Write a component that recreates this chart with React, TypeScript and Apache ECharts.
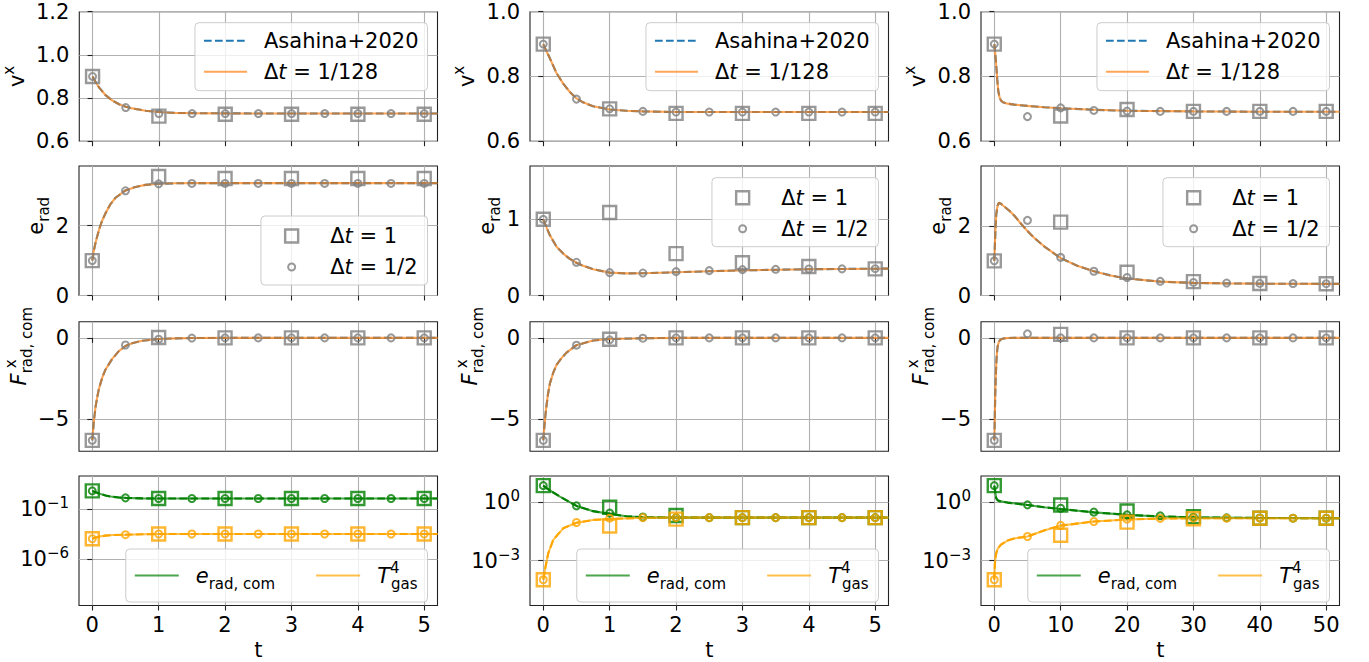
import React, { useEffect, useRef } from 'react';
import * as echarts from 'echarts';

const FF = 'DejaVu Sans';

// ---------- time samples of the coarse runs ----------
const tDt1Short = [0, 1, 2, 3, 4, 5];
const tDt2Short = [0, 0.5, 1, 1.5, 2, 2.5, 3, 3.5, 4, 4.5, 5];
const tDt1Long = [0, 10, 20, 30, 40, 50];
const tDt2Long = [0, 5, 10, 15, 20, 25, 30, 35, 40, 45, 50];

// ---------- column A (t up to 5) ----------
const A_v_t = [0, 0.05, 0.1, 0.2, 0.3, 0.4, 0.5, 0.6, 0.8, 1, 1.25, 1.5, 2, 3, 4, 5, 5.2];
const A_v = [0.9, 0.872, 0.848, 0.812, 0.788, 0.771, 0.76, 0.752, 0.741, 0.735, 0.731, 0.73, 0.729, 0.728, 0.728, 0.728, 0.728];
const A_v_dt1 = [0.9, 0.716, 0.725, 0.725, 0.725, 0.725];
const A_v_dt2 = [0.9, 0.756, 0.728, 0.728, 0.728, 0.728, 0.728, 0.728, 0.728, 0.728, 0.728];

const A_e_t = [0, 0.025, 0.05, 0.075, 0.1, 0.125, 0.15, 0.2, 0.275, 0.35, 0.5, 0.65, 0.8, 1, 1.25, 1.5, 2, 3, 4, 5, 5.2];
const A_e = [1, 1.3, 1.52, 1.7, 1.87, 2.02, 2.15, 2.36, 2.62, 2.8, 3.01, 3.11, 3.17, 3.2, 3.215, 3.22, 3.22, 3.22, 3.22, 3.22, 3.22];
const A_e_dt1 = [1, 3.41, 3.35, 3.35, 3.35, 3.35];
const A_e_dt2 = [1, 3.0, 3.2, 3.21, 3.21, 3.21, 3.21, 3.21, 3.21, 3.21, 3.21];

const A_F_t = [0, 0.025, 0.05, 0.075, 0.1, 0.15, 0.2, 0.3, 0.4, 0.5, 0.6, 0.75, 1, 1.25, 1.5, 2, 3, 5.2];
const A_F = [-6.33, -5.1, -4.25, -3.65, -3.15, -2.45, -1.95, -1.3, -0.82, -0.5, -0.33, -0.18, -0.07, -0.03, -0.01, 0, 0, 0];
const A_F_dt1 = [-6.33, 0.02, 0, 0, 0, 0];
const A_F_dt2 = [-6.33, -0.44, -0.08, -0.01, 0, 0, 0, 0, 0, 0, 0];

const A_erc_t = [0, 0.05, 0.125, 0.2, 0.276, 0.4, 0.5, 0.75, 1, 2, 5.2];
const A_erc = [6.8, 5.0, 3.4, 2.4, 1.86, 1.48, 1.36, 1.22, 1.17, 1.17, 1.17];
const A_erc_dt1 = [6.8, 1.17, 1.17, 1.17, 1.17, 1.17];
const A_erc_dt2 = [6.8, 1.36, 1.17, 1.17, 1.17, 1.17, 1.17, 1.17, 1.17, 1.17, 1.17];
const A_T4_t = [0, 0.05, 0.125, 0.2, 0.3, 0.5, 0.75, 1, 2, 5.2];
const A_T4 = [1.07e-4, 1.4e-4, 1.85e-4, 2.2e-4, 2.5e-4, 2.7e-4, 3.0e-4, 3.15e-4, 3.2e-4, 3.2e-4];
const A_T4_dt1 = [1.07e-4, 3.2e-4, 3.2e-4, 3.2e-4, 3.2e-4, 3.2e-4];
const A_T4_dt2 = [1.07e-4, 2.7e-4, 3.2e-4, 3.2e-4, 3.2e-4, 3.2e-4, 3.2e-4, 3.2e-4, 3.2e-4, 3.2e-4, 3.2e-4];

// ---------- column B (t up to 5) ----------
const B_v_t = [0, 0.05, 0.1, 0.2, 0.3, 0.4, 0.5, 0.6, 0.75, 1, 1.25, 1.5, 2, 3, 4, 5, 5.2];
const B_v = [0.9, 0.877, 0.856, 0.81, 0.778, 0.752, 0.732, 0.72, 0.708, 0.698, 0.694, 0.692, 0.69, 0.69, 0.69, 0.69, 0.69];
const B_v_dt1 = [0.9, 0.7, 0.686, 0.686, 0.686, 0.686];
const B_v_dt2 = [0.9, 0.73, 0.7, 0.692, 0.69, 0.69, 0.69, 0.69, 0.69, 0.69, 0.69];

const B_e_t = [0, 0.05, 0.1, 0.2, 0.3, 0.4, 0.5, 0.6, 0.75, 1, 1.25, 1.5, 2, 2.5, 3, 4, 5, 5.2];
const B_e = [1, 0.89, 0.79, 0.64, 0.55, 0.48, 0.43, 0.39, 0.345, 0.3, 0.29, 0.292, 0.305, 0.318, 0.33, 0.345, 0.352, 0.353];
const B_e_dt1 = [1, 1.09, 0.55, 0.43, 0.38, 0.35];
const B_e_dt2 = [1, 0.436, 0.3, 0.295, 0.313, 0.326, 0.34, 0.344, 0.348, 0.35, 0.352];

const B_F_t = [0, 0.02, 0.04, 0.07, 0.1, 0.15, 0.2, 0.275, 0.35, 0.5, 0.75, 1, 1.5, 2, 5.2];
const B_F = [-6.33, -5.3, -4.46, -3.5, -2.81, -2.15, -1.67, -1.25, -0.91, -0.45, -0.165, -0.07, -0.02, 0, 0];
const B_F_dt1 = [-6.33, -0.08, 0, 0, 0, 0];
const B_F_dt2 = [-6.33, -0.45, -0.12, -0.02, 0, 0, 0, 0, 0, 0, 0];

const B_erc_t = [0, 0.05, 0.1, 0.25, 0.5, 0.75, 1, 1.25, 1.5, 2, 5.2];
const B_erc = [7.08, 5.25, 3.98, 1.95, 0.646, 0.347, 0.251, 0.19, 0.17, 0.162, 0.162];
const B_erc_dt1 = [7.08, 0.55, 0.209, 0.162, 0.162, 0.162];
const B_erc_dt2 = [7.08, 0.646, 0.275, 0.174, 0.162, 0.162, 0.162, 0.162, 0.162, 0.162, 0.162];
const B_T4_t = [0, 0.025, 0.075, 0.15, 0.3, 0.5, 0.75, 1, 1.5, 2, 5.2];
const B_T4 = [1.05e-4, 3.4e-4, 2.4e-3, 1.17e-2, 4.57e-2, 8.9e-2, 0.123, 0.138, 0.158, 0.162, 0.162];
const B_T4_dt1 = [1.05e-4, 0.06, 0.135, 0.162, 0.162, 0.162];
const B_T4_dt2 = [1.05e-4, 0.091, 0.151, 0.162, 0.162, 0.162, 0.162, 0.162, 0.162, 0.162, 0.162];

// ---------- column C (t up to 50) ----------
const C_v_t = [0, 0.15, 0.3, 0.45, 0.6, 0.8, 1, 1.3, 2, 3, 5, 7.5, 10, 15, 20, 30, 40, 50, 52];
const C_v = [0.9, 0.87, 0.833, 0.79, 0.755, 0.735, 0.726, 0.72, 0.716, 0.713, 0.709, 0.705, 0.702, 0.697, 0.694, 0.692, 0.691, 0.691, 0.691];
const C_v_dt1 = [0.9, 0.678, 0.698, 0.692, 0.692, 0.692];
const C_v_dt2 = [0.9, 0.676, 0.703, 0.695, 0.693, 0.692, 0.692, 0.692, 0.692, 0.692, 0.692];

const C_e_t = [0, 0.1, 0.2, 0.3, 0.5, 0.7, 1, 1.5, 2.2, 3, 4, 5, 6, 7.5, 10, 12.5, 15, 17.5, 20, 25, 30, 35, 40, 50, 52];
const C_e = [1, 1.5, 2.0, 2.35, 2.6, 2.68, 2.65, 2.57, 2.46, 2.31, 2.08, 1.86, 1.67, 1.42, 1.08, 0.86, 0.7, 0.58, 0.49, 0.4, 0.365, 0.35, 0.342, 0.336, 0.335];
const C_e_dt1 = [1, 2.12, 0.67, 0.4, 0.345, 0.34];
const C_e_dt2 = [1, 2.17, 1.1, 0.7, 0.52, 0.41, 0.377, 0.36, 0.35, 0.345, 0.34];

const C_F_t = [0, 0.05, 0.1, 0.15, 0.2, 0.3, 0.4, 0.5, 0.65, 0.8, 1.1, 1.5, 2, 3, 52];
const C_F = [-6.33, -5.5, -4.4, -3.43, -2.7, -1.57, -0.95, -0.54, -0.3, -0.17, -0.07, -0.03, -0.01, 0, 0];
const C_F_dt1 = [-6.33, 0.22, 0, 0, 0, 0];
const C_F_dt2 = [-6.33, 0.25, 0, 0, 0, 0, 0, 0, 0, 0, 0];

const C_erc_t = [0, 0.1, 0.2, 0.3, 0.5, 0.7, 1, 2, 5, 7.5, 10, 15, 20, 25, 30, 40, 52];
const C_erc = [7.08, 4.27, 2.4, 1.58, 1.26, 1.17, 1.1, 0.955, 0.724, 0.55, 0.447, 0.302, 0.224, 0.186, 0.166, 0.155, 0.151];
const C_erc_dt1 = [7.08, 0.724, 0.355, 0.182, 0.151, 0.151];
const C_erc_dt2 = [7.08, 0.731, 0.49, 0.309, 0.224, 0.2, 0.17, 0.158, 0.155, 0.151, 0.151];
const C_T4_t = [0, 0.05, 0.1, 0.2, 0.3, 0.5, 1, 2, 3, 5, 7.5, 10, 15, 20, 25, 30, 52];
const C_T4 = [1.05e-4, 3.16e-4, 7.4e-4, 1.58e-3, 2.45e-3, 3.98e-3, 6.6e-3, 1.07e-2, 1.38e-2, 1.74e-2, 3.55e-2, 6.3e-2, 0.102, 0.129, 0.145, 0.151, 0.151];
const C_T4_dt1 = [1.05e-4, 0.02, 0.0955, 0.141, 0.151, 0.151];
const C_T4_dt2 = [1.05e-4, 0.0174, 0.0646, 0.102, 0.135, 0.148, 0.151, 0.151, 0.151, 0.151, 0.151];

// ---------- axes ----------
const xRanges = [[-0.2, 5.2], [-0.2, 5.2], [-2, 52]];
const xTickVals = [[0, 1, 2, 3, 4, 5], [0, 1, 2, 3, 4, 5], [0, 10, 20, 30, 40, 50]];
const yMins = [[0.6, 0.6, 0.6], [0, 0, 0], [-7, -7, -7], [2.1e-11, 5e-6, 5e-6]];
const yMaxs = [[1.2, 1.0, 1.0], [3.71, 1.7, 3.74], [1, 1, 1], [214, 22.1, 22.1]];
const yTickVals = [
  [[0.6, 0.8, 1.0, 1.2], [0.6, 0.8, 1.0], [0.6, 0.8, 1.0]],
  [[0, 2], [0, 1], [0, 2]],
  [[-5, 0], [-5, 0], [-5, 0]],
  [[1e-6, 1e-1], [1e-3, 1], [1e-3, 1]],
];

// ---------- layout ----------
const gridLeft = [79, 530, 981];
const gridTop = [11.7, 166, 321.7, 476];
const GW = 358.5;
const GH = 129.5;

const GRAY = '#7f7f7f';
const BLUE = '#1f77b4';
const TABORANGE = '#ff7f0e';
const GREEN = '#008000';
const ORANGE = '#ffa500';

const base = { fontFamily: FF, color: '#000', align: 'left' };
const RICH: Record<string, any> = {
  n: { ...base, fontSize: 21, lineHeight: 24 },
  nL: { ...base, fontSize: 21, lineHeight: 24, padding: [0, 0, 0, 12] },
  nE: { ...base, fontSize: 21, lineHeight: 24, padding: [0, 0, 0, 30] },
  it: { ...base, fontSize: 21, lineHeight: 24, fontStyle: 'italic' },
  itL: { ...base, fontSize: 21, lineHeight: 24, fontStyle: 'italic', padding: [0, 0, 0, 12] },
  itF: { ...base, fontSize: 21, lineHeight: 24, fontStyle: 'italic', padding: [0, 0, 0, 28] },
  sup: { ...base, fontSize: 15, lineHeight: 24, padding: [0, 0, 16, 0] },
  supS: { ...base, fontSize: 15, lineHeight: 24, padding: [0, 0, 16, 0], width: 1 },
  supP: { ...base, fontSize: 15, lineHeight: 24, padding: [0, 0, 16, 4] },
  sub: { ...base, fontSize: 15, lineHeight: 24, padding: [16, 0, 0, 0] },
  subS: { ...base, fontSize: 15, lineHeight: 24, padding: [16, 0, 0, 0], width: 1 },
  b: { ...base, fontSize: 21, lineHeight: 24 },
  e: { ...base, fontSize: 15, lineHeight: 24, padding: [0, 0, 12, 0] },
};

const legendText: Record<string, string> = {
  'Asahina+2020': '{nL|Asahina+2020}',
  'Δt = 1/128': '{nL|Δ}{it|t}{n| = 1/128}',
  'Δt = 1': '{nL|Δ}{it|t}{n| = 1}',
  'Δt = 1/2': '{nL|Δ}{it|t}{n| = 1/2}',
  'e_rad,com': '{itL|e}{sub|rad, com}',
  'T4_gas': '{itL|T}{supS|4}{sub|gas}',
};

const yNames = ['{n|v}{sup|x}', '{nE|e}{sub|rad}', '{itF|F}{subS|rad, com}{supP|x}'];
const yNameGaps = [40, 26, 45];

const SQ_ICON = 'path://M0 0 M43 15 M15 1 L28 1 L28 14 L15 14 Z';
const CI_ICON = 'path://M0 0 M43 15 M18 7.5 A3.5 3.5 0 1 1 25 7.5 A3.5 3.5 0 1 1 18 7.5 Z';

const zip = (t: number[], v: number[]) => t.map((x, i) => [x, v[i]]);
const minus = (s: string) => s.replace('-', '\u2212');

function buildOption() {
  const linPanels = [
    [
      [A_v_t, A_v, A_v_dt1, A_v_dt2],
      [B_v_t, B_v, B_v_dt1, B_v_dt2],
      [C_v_t, C_v, C_v_dt1, C_v_dt2],
    ],
    [
      [A_e_t, A_e, A_e_dt1, A_e_dt2],
      [B_e_t, B_e, B_e_dt1, B_e_dt2],
      [C_e_t, C_e, C_e_dt1, C_e_dt2],
    ],
    [
      [A_F_t, A_F, A_F_dt1, A_F_dt2],
      [B_F_t, B_F, B_F_dt1, B_F_dt2],
      [C_F_t, C_F, C_F_dt1, C_F_dt2],
    ],
  ];
  const logPanels = [
    [A_erc_t, A_erc, A_erc_dt1, A_erc_dt2, A_T4_t, A_T4, A_T4_dt1, A_T4_dt2],
    [B_erc_t, B_erc, B_erc_dt1, B_erc_dt2, B_T4_t, B_T4, B_T4_dt1, B_T4_dt2],
    [C_erc_t, C_erc, C_erc_dt1, C_erc_dt2, C_T4_t, C_T4, C_T4_dt1, C_T4_dt2],
  ];

  const grid: any[] = [];
  const xAxis: any[] = [];
  const yAxis: any[] = [];
  const series: any[] = [];
  const legend: any[] = [];

  const refLine = (name: string, data: any[], idx: number, color: string) => ({
    type: 'line', name, data, xAxisIndex: idx, yAxisIndex: idx, symbol: 'none', showSymbol: false,
    lineStyle: { color, width: 2.1, type: [7.7, 3.3] }, itemStyle: { color }, silent: true, z: 2,
  });
  const simLine = (name: string, data: any[], idx: number, color: string) => ({
    type: 'line', name, data, xAxisIndex: idx, yAxisIndex: idx, symbol: 'none', showSymbol: false,
    lineStyle: { color, width: 2.1, opacity: 0.7 }, itemStyle: { color }, silent: true, z: 3,
  });
  const marks = (name: string, data: any[], idx: number, color: string, sq: boolean) => ({
    type: 'scatter', name, data, xAxisIndex: idx, yAxisIndex: idx,
    symbol: sq ? 'rect' : 'circle', symbolSize: sq ? 13 : 7,
    itemStyle: { color: 'rgba(0,0,0,0)', borderColor: color, borderWidth: sq ? 2.4 : 2 },
    silent: true, z: 4,
  });

  for (let r = 0; r < 4; r++) {
    for (let c = 0; c < 3; c++) {
      const idx = r * 3 + c;
      grid.push({
        left: gridLeft[c], top: gridTop[r], width: GW, height: GH,
        show: true, borderColor: '#222', borderWidth: 1.1, backgroundColor: 'rgba(0,0,0,0)',
      });
      xAxis.push({
        gridIndex: idx, type: 'value', min: xRanges[c][0], max: xRanges[c][1],
        axisLine: { show: false },
        axisTick: { show: true, customValues: xTickVals[c], length: 5, inside: false, lineStyle: { color: '#222', width: 1.1 } },
        axisLabel: { show: r === 3, customValues: xTickVals[c], margin: 9, fontSize: 21, fontFamily: FF, color: '#000' },
        splitLine: { show: true, lineStyle: { color: '#b0b0b0', width: 1.1 } },
        name: r === 3 ? 't' : '', nameLocation: 'middle', nameGap: 34,
        nameTextStyle: { fontSize: 21, fontFamily: FF, color: '#000' },
      });
      const fmt =
        r === 0 ? (v: number) => v.toFixed(1)
          : r === 3 ? (v: number) => {
            const e = Math.round(Math.log10(v));
            return '{b|10}{e|' + minus(String(e)) + '}';
          }
            : (v: number) => minus(String(v));
      yAxis.push({
        gridIndex: idx, type: r === 3 ? 'log' : 'value', logBase: 10,
        min: yMins[r][c], max: yMaxs[r][c],
        axisLine: { show: false },
        axisTick: { show: true, customValues: yTickVals[r][c], length: 5, inside: false, lineStyle: { color: '#222', width: 1.1 } },
        axisLabel: {
          show: true, customValues: yTickVals[r][c], margin: 10, fontSize: 21, fontFamily: FF, color: '#000',
          formatter: fmt, rich: RICH,
        },
        splitLine: { show: true, lineStyle: { color: '#b0b0b0', width: 1.1 } },
        name: r < 3 ? yNames[r] : '', nameLocation: 'middle', nameRotate: 90, nameGap: r < 3 ? yNameGaps[r] : 0,
        nameTextStyle: { fontSize: 21, fontFamily: FF, color: '#000', rich: RICH },
      });

      const t1 = c < 2 ? tDt1Short : tDt1Long;
      const t2 = c < 2 ? tDt2Short : tDt2Long;
      if (r < 3) {
        const [ft, fv, d1, d2] = linPanels[r][c];
        series.push(refLine('Asahina+2020', zip(ft, fv), idx, BLUE));
        series.push(simLine('Δt = 1/128', zip(ft, fv), idx, TABORANGE));
        series.push(marks('Δt = 1', zip(t1, d1), idx, GRAY, true));
        series.push(marks('Δt = 1/2', zip(t2, d2), idx, GRAY, false));
      } else {
        const [et, ev, e1, e2, tt, tv, q1, q2] = logPanels[c];
        series.push(refLine('e_rad,com ref', zip(et, ev), idx, GREEN));
        series.push(simLine('e_rad,com', zip(et, ev), idx, GREEN));
        series.push(refLine('T4_gas ref', zip(tt, tv), idx, ORANGE));
        series.push(simLine('T4_gas', zip(tt, tv), idx, ORANGE));
        series.push(marks('e_rad,com Δt = 1', zip(t1, e1), idx, GREEN, true));
        series.push(marks('e_rad,com Δt = 1/2', zip(t2, e2), idx, GREEN, false));
        series.push(marks('T4_gas Δt = 1', zip(t1, q1), idx, ORANGE, true));
        series.push(marks('T4_gas Δt = 1/2', zip(t2, q2), idx, ORANGE, false));
      }
    }
  }

  const legendCommon = {
    selectedMode: false,
    backgroundColor: 'rgba(255,255,255,0.8)',
    borderColor: '#cccccc', borderWidth: 1, borderRadius: 4,
    itemWidth: 43, itemHeight: 15,
    textStyle: { fontFamily: FF, fontSize: 21, color: '#000', lineHeight: 24, rich: RICH },
    formatter: (name: string) => legendText[name] ?? name,
    z: 10,
  };
  for (let c = 0; c < 3; c++) {
    const right = 1369 - (gridLeft[c] + GW - 10);
    legend.push({
      ...legendCommon, orient: 'vertical', right, top: 22.7, padding: [6, 9, 7, 8], itemGap: 7,
      data: [
        { name: 'Asahina+2020', itemStyle: { opacity: 0 } },
        { name: 'Δt = 1/128', itemStyle: { opacity: 0 } },
      ],
    });
    legend.push({
      ...legendCommon, orient: 'vertical', right, top: c === 0 ? 216 : 177.7, padding: [8, 10, 6, 8], itemGap: 7,
      data: [
        { name: 'Δt = 1', icon: SQ_ICON, itemStyle: { color: 'rgba(0,0,0,0)', borderColor: GRAY, borderWidth: 2.4 } },
        { name: 'Δt = 1/2', icon: CI_ICON, itemStyle: { color: 'rgba(0,0,0,0)', borderColor: GRAY, borderWidth: 2 } },
      ],
    });
    legend.push({
      ...legendCommon, orient: 'horizontal', right, top: 549, padding: [11, 10, 11, 8], itemGap: 40, itemWidth: 44,
      data: [
        { name: 'e_rad,com', itemStyle: { opacity: 0 } },
        { name: 'T4_gas', itemStyle: { opacity: 0 } },
      ],
    });
  }

  return {
    animation: false,
    backgroundColor: '#ffffff',
    textStyle: { fontFamily: FF },
    grid, xAxis, yAxis, series, legend,
  };
}

export default function App() {
  const ref = useRef<HTMLDivElement>(null);
  useEffect(() => {
    if (!ref.current) return;
    const chart = echarts.init(ref.current, undefined, { renderer: 'svg' });
    chart.setOption(buildOption() as any);
    return () => chart.dispose();
  }, []);
  return <div ref={ref} style={{ position: 'absolute', left: 0, top: 0, width: 1369, height: 662 }} />;
}
